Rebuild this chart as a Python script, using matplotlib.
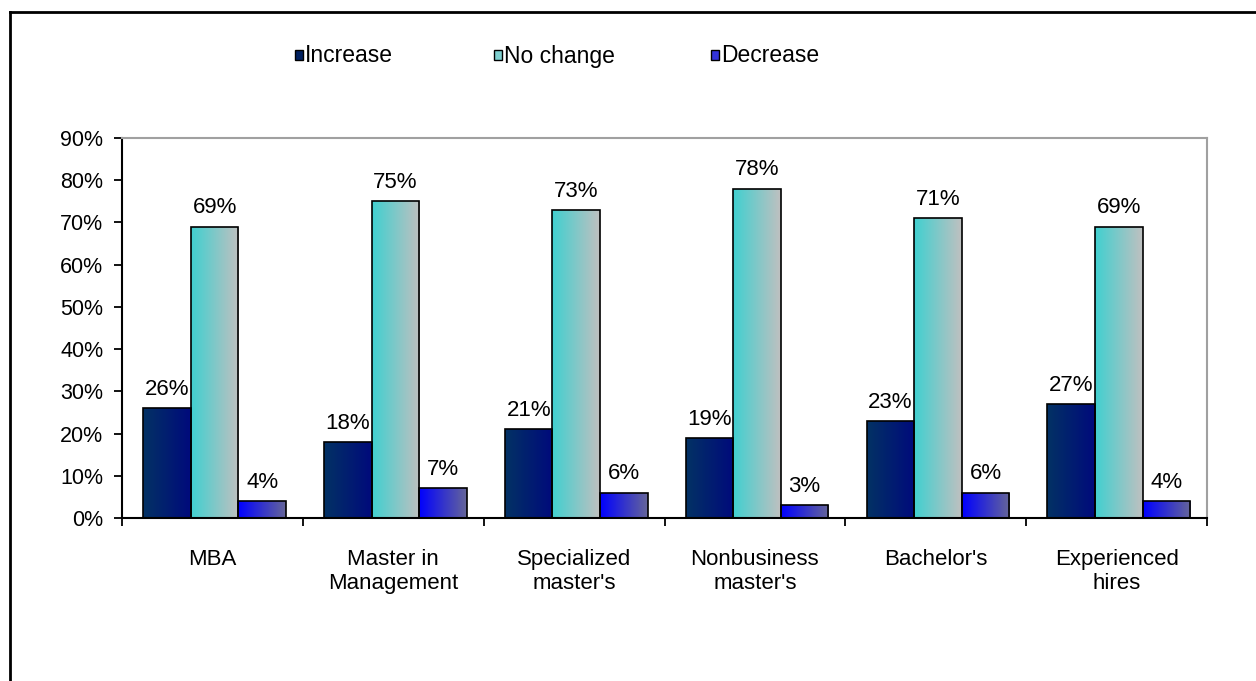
import numpy as np
import matplotlib
matplotlib.use("Agg")
import matplotlib.pyplot as plt
from matplotlib.colors import LinearSegmentedColormap
from matplotlib.patches import Rectangle
from matplotlib.lines import Line2D

plt.rcParams['font.family'] = ['Liberation Sans', 'DejaVu Sans']

categories = ["MBA", "Master in\nManagement", "Specialized\nmaster's",
              "Nonbusiness\nmaster's", "Bachelor's", "Experienced\nhires"]
series_names = ["Increase", "No change", "Decrease"]
increase = [26, 18, 21, 19, 23, 27]
no_change = [69, 75, 73, 78, 71, 69]
decrease = [4, 7, 6, 3, 6, 4]
y_ticks = [0, 10, 20, 30, 40, 50, 60, 70, 80, 90]

# left-to-right gradient stops for each series
gradients = {
    "Increase": ("#033264", "#000a7c"),
    "No change": ("#40d0d0", "#c0c0c0"),
    "Decrease": ("#0000ff", "#666699"),
}
legend_colors = {"Increase": "#002060", "No change": "#7fd0d0", "Decrease": "#3333dd"}

fig = plt.figure(figsize=(12.56, 6.81), dpi=100)
ax = fig.add_axes([122 / 1256, 1 - 518 / 681, (1207 - 122) / 1256, (518 - 138) / 681])

x = np.arange(len(categories))
width = 0.263
shift = 0.012
values = [increase, no_change, decrease]
ramp = np.linspace(0, 1, 256).reshape(1, -1)

for i, (name, vals) in enumerate(zip(series_names, values)):
    offs = (i - 1) * width + shift
    bars = ax.bar(x + offs, vals, width, facecolor="none", edgecolor="black",
                  linewidth=1.2, zorder=3)
    cmap = LinearSegmentedColormap.from_list(name, gradients[name])
    for b, v in zip(bars, vals):
        x0 = b.get_x()
        im = ax.imshow(ramp, cmap=cmap, aspect="auto", extent=[x0, x0 + width, 0, v],
                       origin="lower", zorder=2, interpolation="bilinear")
        im.set_clip_path(b)
        ax.annotate(f"{v}%", (x0 + width / 2, v), xytext=(0, 9.5),
                    textcoords="offset points", ha="center", va="baseline",
                    fontsize=16, color="black", zorder=4)

ax.set_xlim(-0.5, len(categories) - 0.5)
ax.set_ylim(0, 90)
ax.set_yticks(y_ticks)
ax.set_yticklabels([f"{t}%" for t in y_ticks], fontsize=15.5)
ax.set_xticks(x)
ax.set_xticklabels(categories, fontsize=16, linespacing=1.22)
ax.tick_params(axis="x", length=0, pad=22)
ax.tick_params(axis="y", length=5.5, width=1.3, direction="out", pad=8)
ax.set_xticks(np.arange(len(categories) + 1) - 0.5, minor=True)
ax.tick_params(axis="x", which="minor", length=6, width=1.3, direction="out")

for side in ("top", "right"):
    ax.spines[side].set_color("#a0a0a0")
    ax.spines[side].set_linewidth(1.5)
for side in ("left", "bottom"):
    ax.spines[side].set_color("black")
    ax.spines[side].set_linewidth(1.5)
ax.set_facecolor("white")

# legend row across the top
legend_x = [295, 494, 711]
for name, lx in zip(series_names, legend_x):
    fig.patches.append(Rectangle((lx / 1256, 1 - 60 / 681), 8 / 1256, 10 / 681,
                                 transform=fig.transFigure, facecolor=legend_colors[name],
                                 edgecolor="black", linewidth=1.0))
    fig.text((lx + 10) / 1256, 1 - 56 / 681, name, fontsize=16.5,
             ha="left", va="center")

# outer chart frame
fig.add_artist(Line2D([10 / 1256, 1.0], [1 - 12 / 681, 1 - 12 / 681],
                      transform=fig.transFigure, color="black", linewidth=2))
fig.add_artist(Line2D([10 / 1256, 10 / 1256], [0.0, 1 - 12 / 681],
                      transform=fig.transFigure, color="black", linewidth=2))

fig.savefig("out.png", dpi=100, facecolor="white")
